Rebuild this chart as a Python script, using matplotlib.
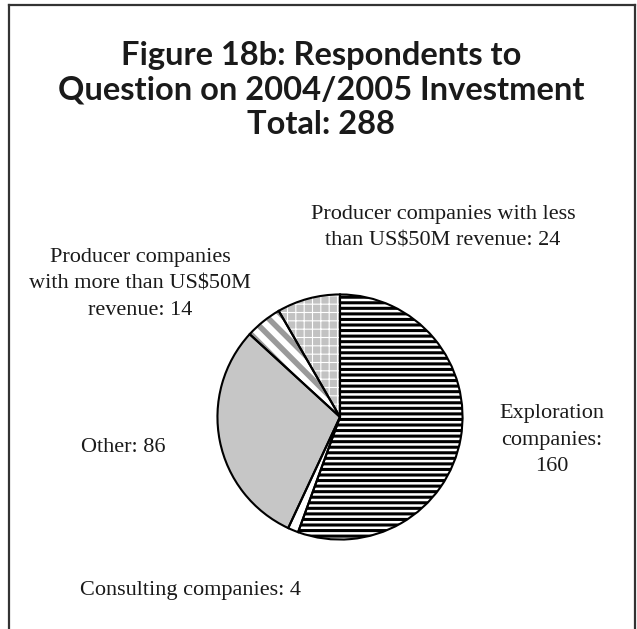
import matplotlib.pyplot as plt
from matplotlib.lines import Line2D

# Respondent counts per company group (total 288)
categories = [
    "Exploration\ncompanies:\n160",
    "Consulting companies: 4",
    "Other: 86",
    "Producer companies\nwith more than US$50M\nrevenue: 14",
    "Producer companies with less\nthan US$50M revenue: 24",
]
counts = [160, 4, 86, 14, 24]
title = "Figure 18b: Respondents to\nQuestion on 2004/2005 Investment\nTotal: 288"

# fill, hatch, hatch colour, hatch width for each wedge
styles = [
    ("white", "---", "black", 2.2),
    ("white", "", "black", 1.0),
    ("#c6c6c6", "", "black", 1.0),
    ("white", "\\\\", "#9a9a9a", 4.0),
    ("#c2c2c2", "++", "white", 0.8),
]

# label anchor points in pixels (x from left, y from top)
label_pos = [(552, 440), (190, 591), (123, 447), (140, 284), (443, 228)]

W, H = 637, 629
fig = plt.figure(figsize=(W / 100, H / 100), dpi=100)

# pie axes: centre (340, 417), radius 125 px
cx, cy, r = 340, 417, 125
ax = fig.add_axes([(cx - r) / W, (H - cy - r) / H, 2 * r / W, 2 * r / H])
wedges, _ = ax.pie(counts, startangle=90, counterclock=False, radius=1,
                   wedgeprops=dict(linewidth=0))
for w, (fc, hatch, hc, hw) in zip(wedges, styles):
    w.set_facecolor(fc)
    w.set_hatch(hatch)
    w.set_edgecolor(hc)
    w.set_linewidth(0)
    if hasattr(w, "set_hatch_linewidth"):
        w.set_hatch_linewidth(hw)
    else:
        w._hatch_linewidth = hw

# black outlines drawn on top of the hatched fills
ax.pie(counts, startangle=90, counterclock=False, radius=1,
       wedgeprops=dict(fill=False, edgecolor="black", linewidth=1.5))
ax.set_xlim(-1.02, 1.02)
ax.set_ylim(-1.02, 1.02)
ax.set_aspect("equal")
ax.axis("off")

fig.text(321 / W, 1 - 90 / H, title, ha="center", va="center",
         fontsize=23.5, fontweight="bold", family="Lato", linespacing=1.24,
         color="#1a1a1a")

for text, (x, y) in zip(categories, label_pos):
    fig.text(x / W, 1 - y / H, text, ha="center", va="center",
             fontsize=16, family="Liberation Serif", linespacing=1.55,
             color="#1a1a1a")

# open frame: left, top and right edges
frame = dict(color="#333333", linewidth=1.6, transform=fig.transFigure)
fig.add_artist(Line2D([9 / W, 9 / W], [0, 1 - 5 / H], **frame))
fig.add_artist(Line2D([9 / W, 635 / W], [1 - 5 / H, 1 - 5 / H], **frame))
fig.add_artist(Line2D([635 / W, 635 / W], [0, 1 - 5 / H], **frame))

fig.savefig("out.png", dpi=100)
